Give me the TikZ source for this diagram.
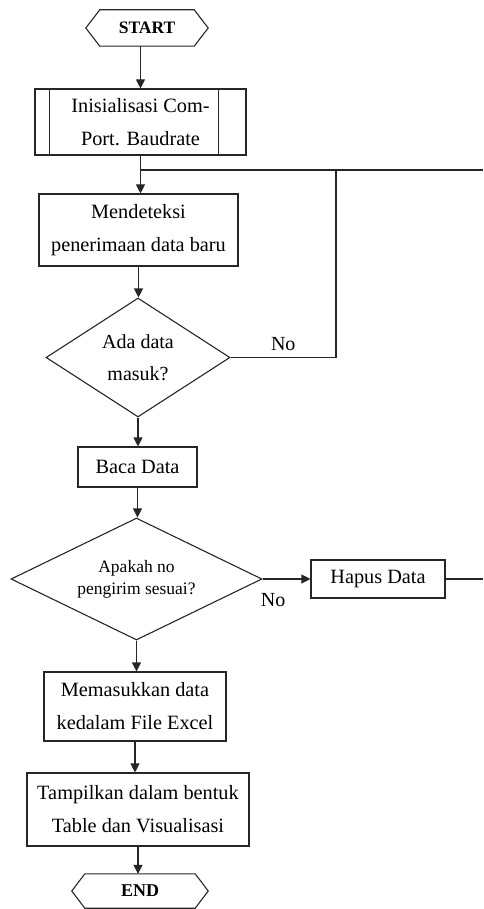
\documentclass[tikz,border=0pt]{standalone}
\usepackage{fontspec}
\setmainfont{Liberation Serif}
\usetikzlibrary{shapes.geometric,arrows.meta,calc}
\begin{document}
\begin{tikzpicture}[x=1pt,y=-1pt,
  line/.style={draw=black!85,line width=1.1pt},
  arr/.style={line,-{Triangle[length=9pt,width=9pt]}},
  box/.style={draw=black!85,line width=1.1pt,rectangle,inner sep=0pt,align=center,font=\fontsize{20.3}{33}\selectfont},
  dec/.style={draw=black!85,line width=1.1pt,diamond,inner sep=0pt,align=center},
  term/.style={inner sep=0pt,font=\fontsize{17.5}{20}\selectfont\bfseries},
  lbl/.style={inner sep=0pt,font=\fontsize{20}{24}\selectfont}]
\useasboundingbox (0,0) rectangle (483,909);

% START
\node[term,minimum width=122pt,minimum height=36pt] (start) at (147,28) {START};
\draw[line] (start.west) -- ([xshift=14pt]start.north west) -- ([xshift=-14pt]start.north east) -- (start.east) -- ([xshift=-14pt]start.south east) -- ([xshift=14pt]start.south west) -- cycle;

% Init (predefined process)
\node[box,minimum width=211pt,minimum height=66pt] (init) at (140.5,122) {Inisialisasi Com-\\Port. Baudrate};
\draw[line] ([xshift=15pt]init.north west) -- ([xshift=15pt]init.south west);
\draw[line] ([xshift=-28pt]init.north east) -- ([xshift=-28pt]init.south east);

\node[box,minimum width=199pt,minimum height=72pt] (mend) at (138.5,230) {Mendeteksi\\penerimaan data baru};

\node[dec,aspect=1.5,minimum width=184pt,minimum height=119pt,font=\fontsize{20}{32}\selectfont] (d1) at (138,357.5) {Ada data\\masuk?};

\node[box,minimum width=119pt,minimum height=40pt] (baca) at (137.5,467) {Baca Data};

\node[dec,aspect=2,minimum width=251pt,minimum height=122pt,font=\fontsize{17.5}{22}\selectfont] (d2) at (136.5,579) {Apakah no\\pengirim sesuai?};

\node[box,minimum width=134pt,minimum height=38pt] (hapus) at (378,579) {Hapus Data};

\node[box,minimum width=182pt,minimum height=69pt] (mem) at (135,706.5) {Memasukkan data\\kedalam File Excel};

\node[box,minimum width=222pt,minimum height=73pt] (tamp) at (138,809.5) {Tampilkan dalam bentuk\\Table dan Visualisasi};

% END
\node[term,font=\fontsize{18}{20}\selectfont\bfseries,minimum width=136pt,minimum height=34pt] (stop) at (140,891) {END};
\draw[line] (stop.west) -- ([xshift=13pt]stop.north west) -- ([xshift=-13pt]stop.north east) -- (stop.east) -- ([xshift=-13pt]stop.south east) -- ([xshift=13pt]stop.south west) -- cycle;

% coordinates
\coordinate (j1) at (140.5,170);
\coordinate (loop1) at (336,170);
\coordinate (topR) at (483,170);
\coordinate (midR) at (483,579);

% connectors
\draw[arr] (start.south -| init.north) -- (init.north);
\draw[arr] (init.south) -- (init.south |- mend.north);
\draw[line] (j1) -- (topR);
\draw[arr] (mend.south) -- (mend.south |- d1.north);
\draw[line] (d1.east) -| (loop1) node[lbl,pos=0.25,above=6pt] {No};
\draw[arr] (d1.south) -- (d1.south |- baca.north);
\draw[arr] (baca.south) -- (baca.south |- d2.north);
\draw[arr] (d2.east) -- (hapus.west) node[lbl,pos=0.22,below=14pt] {No};
\draw[line] (hapus.east) -- (midR);
\draw[arr] (d2.south) -- (d2.south |- mem.north);
\draw[arr] (mem.south) -- (mem.south |- tamp.north);
\draw[arr] (tamp.south) -- (tamp.south |- stop.north);
\end{tikzpicture}
\end{document}
